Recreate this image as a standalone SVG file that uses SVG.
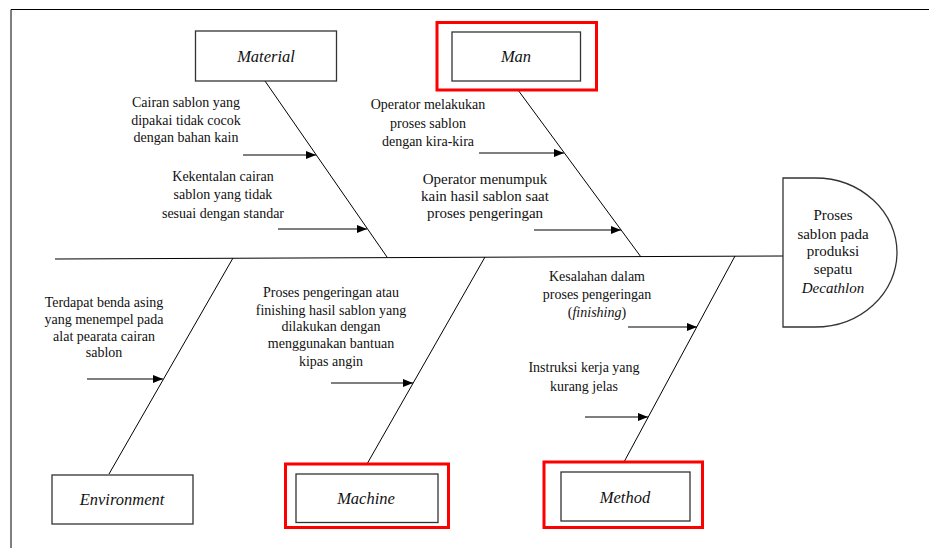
<svg xmlns="http://www.w3.org/2000/svg" width="929" height="548" viewBox="0 0 929 548">
<defs>
<marker id="ah" viewBox="0 0 10 8" refX="10" refY="4" markerWidth="10" markerHeight="8" markerUnits="userSpaceOnUse" orient="auto">
<path d="M0,0 L10,4 L0,8 Z" fill="#000"/>
</marker>
<style>
.t{font-family:"Liberation Serif","Times New Roman",serif;font-size:14px;fill:#111;text-anchor:middle}
.t2{font-size:15px}
.h{font-family:"Liberation Serif","Times New Roman",serif;font-size:15px;fill:#111;text-anchor:middle}
.bl{font-family:"Liberation Serif","Times New Roman",serif;font-size:16.5px;font-style:italic;fill:#111;text-anchor:middle}
.box{fill:#fff;stroke:#333;stroke-width:1.3}
.red{fill:none;stroke:#f00;stroke-width:3}
.ln{stroke:#000;stroke-width:1;fill:none}
.ar{stroke:#000;stroke-width:1.2;fill:none;marker-end:url(#ah)}
</style>
</defs>
<rect width="929" height="548" fill="#fff"/>
<g id="frame">
<path d="M11,548 V9.5 H929" class="ln" stroke-width="1.5"/>
</g>
<g id="connectors">
<line x1="55" y1="259" x2="783" y2="256" class="ln"/>
<line x1="265" y1="81" x2="387" y2="257" class="ln"/>
<line x1="518" y1="90" x2="641" y2="257" class="ln"/>
<line x1="233" y1="258" x2="109" y2="474" class="ln"/>
<line x1="485" y1="257" x2="367" y2="464" class="ln"/>
<line x1="735" y1="256" x2="624" y2="462" class="ln"/>
<line x1="243" y1="155" x2="316" y2="155" class="ar"/>
<line x1="278" y1="229" x2="367" y2="229" class="ar"/>
<line x1="479" y1="153" x2="564" y2="153" class="ar"/>
<line x1="534" y1="230" x2="621" y2="230" class="ar"/>
<line x1="87" y1="379" x2="163" y2="379" class="ar"/>
<line x1="331" y1="383" x2="413" y2="383" class="ar"/>
<line x1="628" y1="327" x2="697" y2="327" class="ar"/>
<line x1="585" y1="417" x2="648" y2="417" class="ar"/>
</g>
<g id="head">
<path d="M783,178 H815 A82,74.5 0 0 1 815,327 H783 Z" class="box"/>
<text class="h" x="833" y="220">Proses</text>
<text class="h" x="833" y="239">sablon pada</text>
<text class="h" x="833" y="256">produksi</text>
<text class="h" x="833" y="274">sepatu</text>
<text class="h" x="833" y="293" font-style="italic">Decathlon</text>
</g>
<g id="material">
<rect x="195.5" y="31" width="141" height="50" class="box"/>
<text class="bl" x="266" y="62">Material</text>
</g>
<g id="man">
<rect x="437" y="22.5" width="159.5" height="67.5" class="red"/>
<rect x="452" y="32" width="128.5" height="49" class="box"/>
<text class="bl" x="516" y="62">Man</text>
</g>
<g id="environment">
<rect x="52" y="475" width="141" height="49" class="box"/>
<text class="bl" x="122" y="505">Environment</text>
</g>
<g id="machine">
<rect x="285.5" y="464" width="163" height="63.5" class="red"/>
<rect x="296" y="474" width="142" height="48.5" class="box"/>
<text class="bl" x="366" y="504">Machine</text>
</g>
<g id="method">
<rect x="544" y="462" width="158.5" height="65.5" class="red"/>
<rect x="561" y="472" width="129" height="49" class="box"/>
<text class="bl" x="625" y="503">Method</text>
</g>
<g id="cause-material-1">
<text class="t" x="186" y="107">Cairan  sablon yang</text>
<text class="t" x="186" y="125">dipakai  tidak cocok</text>
<text class="t" x="186" y="142">dengan bahan kain</text>
</g>
<g id="cause-material-2">
<text class="t" x="223" y="181">Kekentalan  cairan</text>
<text class="t" x="223" y="199">sablon yang tidak</text>
<text class="t" x="223" y="218">sesuai dengan standar</text>
</g>
<g id="cause-man-1">
<text class="t" x="428" y="109">Operator melakukan</text>
<text class="t" x="428" y="128">proses sablon</text>
<text class="t" x="428" y="146">dengan kira-kira</text>
</g>
<g id="cause-man-2">
<text class="t t2" x="485" y="184">Operator menumpuk</text>
<text class="t t2" x="485" y="201">kain  hasil sablon saat</text>
<text class="t t2" x="485" y="218">proses pengeringan</text>
</g>
<g id="cause-environment">
<text class="t" x="104" y="307">Terdapat benda asing</text>
<text class="t" x="104" y="324">yang menempel  pada</text>
<text class="t" x="104" y="341">alat pearata cairan</text>
<text class="t" x="104" y="357">sablon</text>
</g>
<g id="cause-machine">
<text class="t" x="331" y="297">Proses pengeringan atau</text>
<text class="t" x="331" y="315">finishing  hasil sablon yang</text>
<text class="t" x="331" y="331">dilakukan  dengan</text>
<text class="t" x="331" y="348">menggunakan bantuan</text>
<text class="t" x="331" y="366">kipas angin</text>
</g>
<g id="cause-method-1">
<text class="t" x="597" y="281">Kesalahan dalam</text>
<text class="t" x="597" y="299">proses pengeringan</text>
<text class="t" x="597" y="317">(<tspan font-style="italic">finishing</tspan>)</text>
</g>
<g id="cause-method-2">
<text class="t" x="584" y="372">Instruksi kerja  yang</text>
<text class="t" x="584" y="391">kurang jelas</text>
</g>
</svg>
